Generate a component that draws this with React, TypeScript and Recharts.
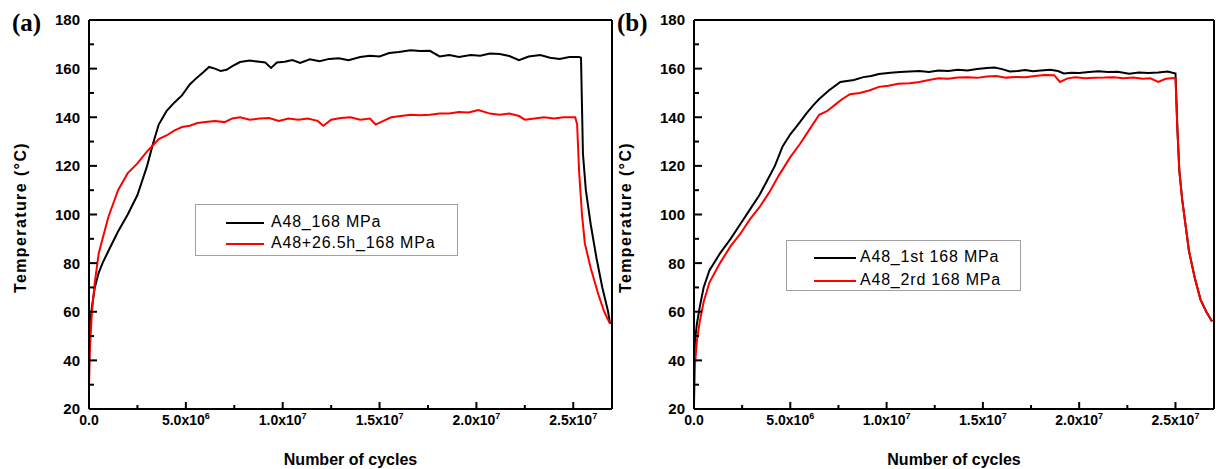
import { LineChart, Line, XAxis, YAxis, ReferenceLine } from "recharts";

// cycles in units of 1e6, temperature in °C

// (a) A48_168 MPa
const aBlackCycles = [
  0, 0.05, 0.15, 0.3, 0.5, 0.7, 1.0, 1.5, 2.0, 2.5,
  3.0, 3.3, 3.6, 4.0, 4.4, 4.8, 5.2, 5.6, 5.9, 6.2,
  6.5, 6.8, 7.1, 7.4, 7.8, 8.3, 8.8, 9.1, 9.4, 9.7,
  10.1, 10.5, 10.9, 11.4, 11.9, 12.4, 12.9, 13.4, 14.0, 14.5,
  15.0, 15.5, 16.0, 16.6, 17.1, 17.6, 18.1, 18.6, 19.1, 19.7,
  20.2, 20.7, 21.2, 21.7, 22.2, 22.7, 23.3, 23.8, 24.3, 24.8,
  25.3, 25.4, 25.5, 25.65, 25.9, 26.2, 26.5, 26.8, 26.9,
];
const aBlackTemp = [
  47, 54, 62, 70, 76, 80, 85, 93, 100, 108,
  120, 129, 137, 142.5, 146, 149, 153.5, 156.5, 158.5, 160.7,
  160, 159, 159.5, 161, 162.7, 163.3, 162.8, 162.5, 160.3, 162.5,
  162.8, 163.5, 162.3, 163.8, 163, 164, 164.3, 163.5, 164.8, 165.3,
  165, 166.4, 166.8, 167.6, 167.2, 167.3, 165, 165.6, 164.8, 165.6,
  165.3, 166.2, 166, 165.2, 163.5, 165, 165.6, 164.5, 164, 164.8,
  164.8, 164.5, 125, 110, 96, 82, 70, 60, 55,
];

// (a) A48+26.5h_168 MPa
const aRedCycles = [
  0, 0.05, 0.15, 0.3, 0.5, 0.7, 1.0, 1.5, 2.0, 2.5,
  3.0, 3.3, 3.6, 4.0, 4.4, 4.8, 5.2, 5.6, 6.0, 6.5,
  7.0, 7.4, 7.8, 8.3, 8.8, 9.3, 9.8, 10.3, 10.8, 11.3,
  11.8, 12.1, 12.5, 13.0, 13.5, 14.0, 14.5, 14.8, 15.2, 15.6,
  16.1, 16.6, 17.1, 17.6, 18.1, 18.6, 19.1, 19.6, 20.1, 20.7,
  21.2, 21.7, 22.2, 22.5, 23.0, 23.5, 24.0, 24.5, 25.1, 25.2,
  25.3, 25.45, 25.6, 25.9, 26.3, 26.6, 26.9,
];
const aRedTemp = [
  30, 45, 60, 72, 84, 90, 99, 110, 117, 121,
  126, 128.5, 131, 132.5, 134.5, 136, 136.5, 137.6, 138, 138.5,
  138, 139.5, 140, 139, 139.5, 139.7, 138.5, 139.5, 139, 139.5,
  138.5, 136.5, 139, 139.7, 140, 139, 139.5, 137, 138.5, 140,
  140.5, 141, 140.8, 141, 141.5, 141.5, 142.2, 142, 143, 141.5,
  141, 141.5, 140.5, 139, 139.5, 140, 139.5, 140, 140, 137,
  118, 100, 88, 78, 67, 60, 55,
];

// (b) A48_1st 168 MPa
const bBlackCycles = [
  0, 0.05, 0.15, 0.3, 0.5, 0.8, 1.35, 1.9, 2.4, 2.9,
  3.4, 3.8, 4.2, 4.6, 5.0, 5.4, 5.85, 6.2, 6.5, 7.0,
  7.6, 8.3, 8.8, 9.2, 9.6, 10.2, 10.7, 11.2, 11.7, 12.2,
  12.7, 13.2, 13.7, 14.2, 14.7, 15.2, 15.6, 16.0, 16.4, 16.8,
  17.2, 17.6, 18.0, 18.5, 18.9, 19.2, 19.6, 20.0, 20.5, 21.0,
  21.5, 22.0, 22.6, 23.1, 23.6, 24.1, 24.6, 25.0, 25.1, 25.2,
  25.35, 25.7, 26.0, 26.3, 26.6, 26.9,
];
const bBlackTemp = [
  38, 48, 55, 62, 70, 77, 84, 90, 96, 102,
  108, 114, 120, 128, 133, 137, 141.7, 145, 147.5, 151,
  154.5, 155.3, 156.5, 157, 157.8, 158.3, 158.6, 158.8, 159, 158.6,
  159.2, 159, 159.5, 159.2, 159.8, 160.3, 160.5, 159.8, 158.8, 159,
  159.4, 158.9, 159.2, 159.5, 159, 158, 158.3, 158.2, 158.6, 158.9,
  158.6, 158.7, 157.9, 158.4, 158.2, 158.4, 158.8, 158, 135, 118,
  106, 85, 74, 65, 60, 56,
];

// (b) A48_2rd 168 MPa
const bRedCycles = [
  0, 0.05, 0.15, 0.3, 0.5, 0.8, 1.35, 1.9, 2.4, 2.9,
  3.4, 3.9, 4.4, 5.0, 5.5, 6.0, 6.5, 6.9, 7.3, 7.7,
  8.1, 8.6, 9.1, 9.6, 10.1, 10.6, 11.2, 11.7, 12.2, 12.7,
  13.2, 13.7, 14.2, 14.7, 15.2, 15.7, 16.2, 16.7, 17.2, 17.7,
  18.2, 18.7, 19.0, 19.4, 19.8, 20.3, 20.8, 21.3, 21.8, 22.3,
  22.8, 23.3, 23.7, 24.1, 24.5, 24.9, 25.0, 25.1, 25.2, 25.35,
  25.7, 26.0, 26.3, 26.6, 26.9,
];
const bRedTemp = [
  22, 38, 48, 56, 64, 72, 80, 87, 92, 98,
  103, 109, 116, 123.6, 129, 135, 141, 142.5, 145, 147.5,
  149.5, 150, 151, 152.5, 153, 153.8, 154, 154.5, 155.3, 156,
  155.8, 156.3, 156.5, 156.2, 156.8, 157, 156.3, 156.6, 156.5, 157,
  157.4, 157.3, 154.5, 156, 156.4, 156, 156.2, 156.3, 156.5, 156,
  156.3, 155.8, 156, 154.5, 155.8, 156.1, 156, 135, 118, 106,
  85, 74, 65, 60, 56,
];

const xMajorTicks = [0, 5, 10, 15, 20, 25];
const xMinorTicks = [2.5, 7.5, 12.5, 17.5, 22.5];
const xTickMantissa = ["0.0", "5.0x10", "1.0x10", "1.5x10", "2.0x10", "2.5x10"];
const xTickExponent = ["", "6", "7", "7", "7", "7"];
const yMajorTicks = [20, 40, 60, 80, 100, 120, 140, 160, 180];
const yMinorTicks = [30, 50, 70, 90, 110, 130, 150, 170];

const SANS = "'Liberation Sans', Arial, Helvetica, sans-serif";
const SERIF = "'Liberation Serif', 'Times New Roman', serif";
const H = 469;

const toPoints = (xs: number[], ys: number[]) => xs.map((x, i) => ({ x, y: ys[i] }));

function XTick({ x, y, payload }: any) {
  const i = xMajorTicks.indexOf(payload.value);
  const major = i >= 0;
  return (
    <g>
      <line x1={x} x2={x} y1={y} y2={y - (major ? 7 : 4)} stroke="#000" strokeWidth={2} />
      {major && (
        <text x={x} y={y + 16} textAnchor="middle" fontFamily={SANS} fontWeight="bold" fontSize={14} fill="#000">
          {xTickMantissa[i]}
          {xTickExponent[i] ? (
            <tspan dy={-6} fontSize={9}>
              {xTickExponent[i]}
            </tspan>
          ) : null}
        </text>
      )}
    </g>
  );
}

function YTick({ x, y, payload }: any) {
  const major = yMajorTicks.includes(payload.value);
  return (
    <g>
      <line x1={x} x2={x + (major ? 8 : 5)} y1={y} y2={y} stroke="#000" strokeWidth={2} />
      {major && (
        <text x={x - 9} y={y} dy="0.36em" textAnchor="end" fontFamily={SANS} fontWeight="bold" fontSize={15} fill="#000">
          {payload.value}
        </text>
      )}
    </g>
  );
}

function XTitle({ viewBox }: any) {
  return (
    <text x={viewBox.x + viewBox.width / 2} y={viewBox.y + 56} textAnchor="middle" fontFamily={SANS} fontWeight="bold" fontSize={16} fill="#000">
      Number of cycles
    </text>
  );
}

function YTitle({ viewBox }: any) {
  const cx = viewBox.x + viewBox.width - 63;
  const cy = viewBox.y + viewBox.height / 2 + 3;
  return (
    <text
      x={cx}
      y={cy}
      transform={`rotate(-90 ${cx} ${cy})`}
      textAnchor="middle"
      fontFamily={SANS}
      fontWeight="bold"
      fontSize={16}
      letterSpacing={1.4}
      fill="#000"
    >
      Temperature (°C)
    </text>
  );
}

type Series = { name: string; color: string; cycles: number[]; temps: number[] };
type LegendBox = { left: number; top: number; width: number; height: number; rows: number[]; lineLeft: number; lineWidth: number; textLeft: number };

function Panel({ tag, left, width, marginRight, series, legend }: { tag: string; left: number; width: number; marginRight: number; series: Series[]; legend: LegendBox }) {
  return (
    <div style={{ position: "absolute", left, top: 0, width, height: H }}>
      <LineChart width={width} height={H} margin={{ top: 20, right: marginRight, bottom: 0, left: 29 }}>
        <XAxis
          type="number"
          dataKey="x"
          domain={[0, 27]}
          allowDataOverflow
          ticks={[...xMajorTicks, ...xMinorTicks].sort((a, b) => a - b)}
          interval={0}
          tickSize={0}
          tickMargin={0}
          tickLine={false}
          tick={<XTick />}
          axisLine={{ stroke: "#000", strokeWidth: 2 }}
          height={60}
          label={<XTitle />}
        />
        <YAxis
          type="number"
          domain={[20, 180]}
          allowDataOverflow
          ticks={[...yMajorTicks, ...yMinorTicks].sort((a, b) => a - b)}
          interval={0}
          tickSize={0}
          tickMargin={0}
          tickLine={false}
          tick={<YTick />}
          axisLine={{ stroke: "#000", strokeWidth: 2 }}
          width={60}
          label={<YTitle />}
        />
        <ReferenceLine y={180} stroke="#000" strokeWidth={2} />
        <ReferenceLine x={27} stroke="#000" strokeWidth={2} />
        {series.map((s) => (
          <Line
            key={s.name}
            name={s.name}
            data={toPoints(s.cycles, s.temps)}
            dataKey="y"
            type="linear"
            stroke={s.color}
            strokeWidth={2}
            dot={false}
            activeDot={false}
            isAnimationActive={false}
          />
        ))}
      </LineChart>
      <div style={{ position: "absolute", left: 12, top: 10, fontFamily: SERIF, fontWeight: "bold", fontSize: 25, lineHeight: "26px", color: "#000" }}>
        {tag}
      </div>
      <div
        style={{
          position: "absolute",
          left: legend.left,
          top: legend.top,
          width: legend.width,
          height: legend.height,
          border: "1px solid #a0a0a0",
          boxSizing: "border-box",
          background: "#fff",
        }}
      >
        {series.map((s, i) => (
          <div key={s.name}>
            <div style={{ position: "absolute", left: legend.lineLeft, top: legend.rows[i] - 1, width: legend.lineWidth, height: 2, background: s.color }} />
            <div
              style={{
                position: "absolute",
                left: legend.textLeft,
                top: legend.rows[i] - 11,
                fontFamily: SANS,
                fontSize: 16,
                letterSpacing: 0.8,
                lineHeight: "20px",
                whiteSpace: "nowrap",
                color: "#000",
              }}
            >
              {s.name}
            </div>
          </div>
        ))}
      </div>
    </div>
  );
}

export default function App() {
  const seriesA: Series[] = [
    { name: "A48_168 MPa", color: "#000000", cycles: aBlackCycles, temps: aBlackTemp },
    { name: "A48+26.5h_168 MPa", color: "#ff0000", cycles: aRedCycles, temps: aRedTemp },
  ];
  const seriesB: Series[] = [
    { name: "A48_1st 168 MPa", color: "#000000", cycles: bBlackCycles, temps: bBlackTemp },
    { name: "A48_2rd 168 MPa", color: "#ff0000", cycles: bRedCycles, temps: bRedTemp },
  ];
  return (
    <div style={{ position: "absolute", left: 0, top: 0, width: 1216, height: H, background: "#fff", overflow: "hidden" }}>
      <Panel
        tag="(a)"
        left={0}
        width={640}
        marginRight={28}
        series={seriesA}
        legend={{ left: 195, top: 204, width: 263, height: 52, rows: [18, 39], lineLeft: 30, lineWidth: 38, textLeft: 75 }}
      />
      <Panel
        tag="(b)"
        left={605}
        width={611}
        marginRight={2}
        series={seriesB}
        legend={{ left: 181, top: 240, width: 235, height: 51, rows: [17, 40], lineLeft: 27, lineWidth: 42, textLeft: 73 }}
      />
    </div>
  );
}
